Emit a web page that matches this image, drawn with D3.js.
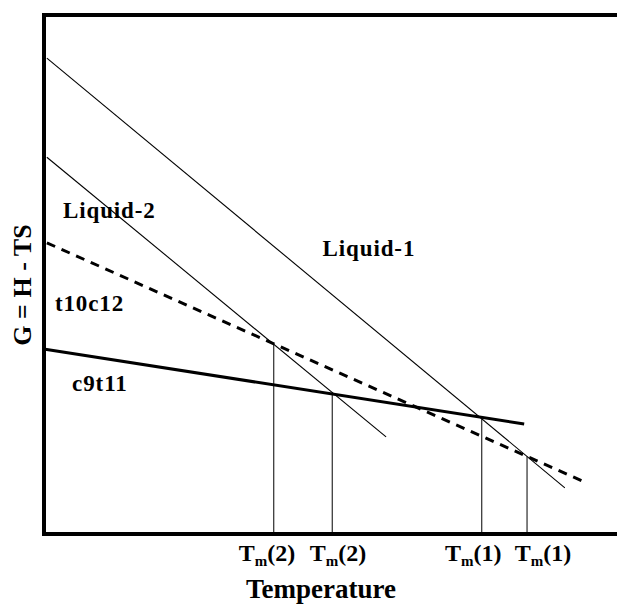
<!DOCTYPE html>
<html>
<head>
<meta charset="utf-8">
<script src="https://cdn.jsdelivr.net/npm/d3@7"></script>
<style>
  html, body { margin: 0; padding: 0; background: #fff; }
  svg { display: block; }
  text { font-family: "Liberation Serif", "Times New Roman", Times, serif; fill: #000; }
</style>
</head>
<body>
<svg id="chart" width="617" height="608"></svg>
<script>
// Free energy curves, arbitrary units (temperature 0-100, G 0-100)
var seriesNames = ['Liquid-1', 'Liquid-2', 't10c12', 'c9t11'];
var liquid1 = [{ t: 0.5, g: 91.7 }, { t: 90.9, g: 8.9 }];
var liquid2 = [{ t: 0.5, g: 72.6 }, { t: 59.7, g: 18.7 }];
var t10c12 = [{ t: 0.5, g: 56.1 }, { t: 94.4, g: 10.0 }];
var c9t11 = [{ t: 0.2, g: 35.6 }, { t: 83.8, g: 21.2 }];

// melting temperatures: where each liquid crosses a solid
var meltTemps = [40.1, 50.3, 76.4, 84.3];
var meltOn = [liquid2, liquid2, liquid1, liquid1];
var tickText = ['2', '2', '1', '1'];
var tickLabelAt = [38.9, 51.3, 74.9, 87.1];

var svg = d3.select('#chart');

var x = d3.scaleLinear().domain([0, 100]).range([44, 617]);
var y = d3.scaleLinear().domain([0, 100]).range([534, 15]);

var line = d3.line()
  .x(function (d) { return x(d.t); })
  .y(function (d) { return y(d.g); });

// value of a straight segment at temperature t
function gAt(seg, t) {
  return d3.scaleLinear().domain([seg[0].t, seg[1].t]).range([seg[0].g, seg[1].g])(t);
}

// drop lines from the crossings down to the axis
svg.selectAll('.drop')
  .data(meltTemps)
  .enter()
  .append('line')
  .attr('class', 'drop')
  .attr('x1', function (d) { return x(d); })
  .attr('x2', function (d) { return x(d); })
  .attr('y1', function (d, i) { return y(gAt(meltOn[i], d)); })
  .attr('y2', y(0))
  .attr('stroke', '#000')
  .attr('stroke-width', 1);

svg.append('path').datum(liquid1)
  .attr('d', line).attr('fill', 'none')
  .attr('stroke', '#000').attr('stroke-width', 1.1);
svg.append('path').datum(liquid2)
  .attr('d', line).attr('fill', 'none')
  .attr('stroke', '#000').attr('stroke-width', 1.1);
svg.append('path').datum(t10c12)
  .attr('d', line).attr('fill', 'none')
  .attr('stroke', '#000').attr('stroke-width', 3)
  .attr('stroke-dasharray', '9,7');
svg.append('path').datum(c9t11)
  .attr('d', line).attr('fill', 'none')
  .attr('stroke', '#000').attr('stroke-width', 3);

// frame: left, top and bottom only
svg.append('path')
  .attr('d', d3.line()([[x(100), y(100)], [x(0), y(100)], [x(0), y(0)], [x(100), y(0)]]))
  .attr('fill', 'none')
  .attr('stroke', '#000')
  .attr('stroke-width', 4);

// curve labels
var labelPos = [
  { t: 48.6, g: 53.5 },
  { t: 3.3, g: 60.9 },
  { t: 1.9, g: 43.0 },
  { t: 4.9, g: 27.6 }
];
svg.selectAll('.curve-label')
  .data(seriesNames)
  .enter()
  .append('text')
  .attr('class', 'curve-label')
  .attr('x', function (d, i) { return x(labelPos[i].t); })
  .attr('y', function (d, i) { return y(labelPos[i].g); })
  .attr('font-size', 23)
  .attr('font-weight', 'bold')
  .attr('letter-spacing', 0.9)
  .text(function (d) { return d; });

// Tm tick labels with subscript m
var ticks = svg.selectAll('.tm')
  .data(tickText)
  .enter()
  .append('text')
  .attr('class', 'tm')
  .attr('x', function (d, i) { return x(tickLabelAt[i]); })
  .attr('y', 561)
  .attr('text-anchor', 'middle')
  .attr('font-size', 24)
  .attr('font-weight', 'bold');
ticks.append('tspan').text('T');
ticks.append('tspan').attr('font-size', 15)
  .attr('dy', 5).text('m');
ticks.append('tspan').attr('dy', -5)
  .text(function (d) { return '(' + d + ')'; });

// axis titles
svg.append('text')
  .attr('x', 321)
  .attr('y', 598)
  .attr('text-anchor', 'middle')
  .attr('font-size', 27)
  .attr('font-weight', 'bold')
  .text('Temperature');

svg.append('text')
  .attr('transform', 'translate(31,285) rotate(-90)')
  .attr('text-anchor', 'middle')
  .attr('font-size', 26)
  .attr('font-weight', 'bold')
  .text('G = H - TS');
</script>
</body>
</html>
